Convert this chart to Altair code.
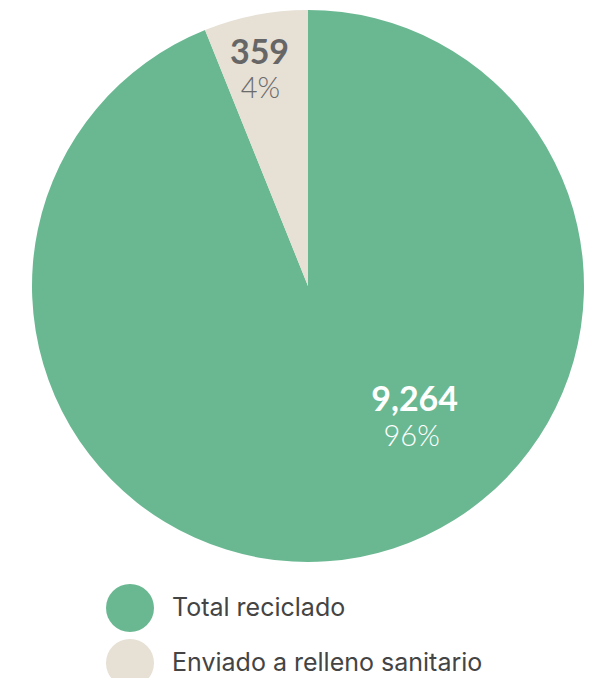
import altair as alt
import pandas as pd

categories = ["Total reciclado", "Enviado a relleno sanitario"]
values = [9264, 359]
percents = ["96%", "4%"]
colors = ["#6ab892", "#e6e0d5"]
order = [1, 2]

df = pd.DataFrame({"cat": categories, "value": values, "pct": percents, "ord": order})
df["label"] = df["value"].map(lambda v: f"{v:,}")

theta = alt.Theta("value:Q", stack=True, scale=alt.Scale(type="pow", exponent=1.651))
base = alt.Chart(df).encode(
    theta=theta,
    order=alt.Order("ord:Q"),
    x=alt.value(300),
    y=alt.value(278),
)

pie = base.mark_arc(outerRadius=276, stroke=None).encode(
    color=alt.Color(
        "cat:N",
        scale=alt.Scale(domain=categories, range=colors),
        legend=alt.Legend(
            orient="none",
            legendX=98,
            legendY=576,
            title=None,
            symbolType="circle",
            symbolSize=2304,
            symbolStrokeWidth=0,
            symbolOpacity=1,
            labelFont="Inter",
            labelFontSize=25,
            labelColor="#444444",
            labelOffset=18,
            rowPadding=7,
            padding=0,
            labelLimit=450,
        ),
    )
)


def label_layer(cat, field, radius, dx, dy, color, size, weight):
    return base.transform_calculate(
        t=f"datum.cat == '{cat}' ? datum.{field} : ''"
    ).mark_text(
        radius=radius, dx=dx, dy=dy, color=color, font="Lato",
        fontSize=size, fontWeight=weight, baseline="middle", align="center",
    ).encode(text="t:N")


g1 = label_layer("Total reciclado", "label", 135, -22, 74, "white", 34, "bold")
g2 = label_layer("Total reciclado", "pct", 135, -25, 110, "white", 29, 300)
b1 = label_layer("Enviado a relleno sanitario", "label", 238, -3, 2, "#666666", 34, "bold")
b2 = label_layer("Enviado a relleno sanitario", "pct", 238, -2, 37, "#6b6b6b", 29, 300)

chart = alt.layer(pie, g1, g2, b1, b2).properties(
    width=578, height=670, padding=0, autosize=alt.AutoSizeParams(type="none")
).configure_view(stroke=None)

chart.save("out.html", embed_options={"renderer": "svg", "actions": False})
